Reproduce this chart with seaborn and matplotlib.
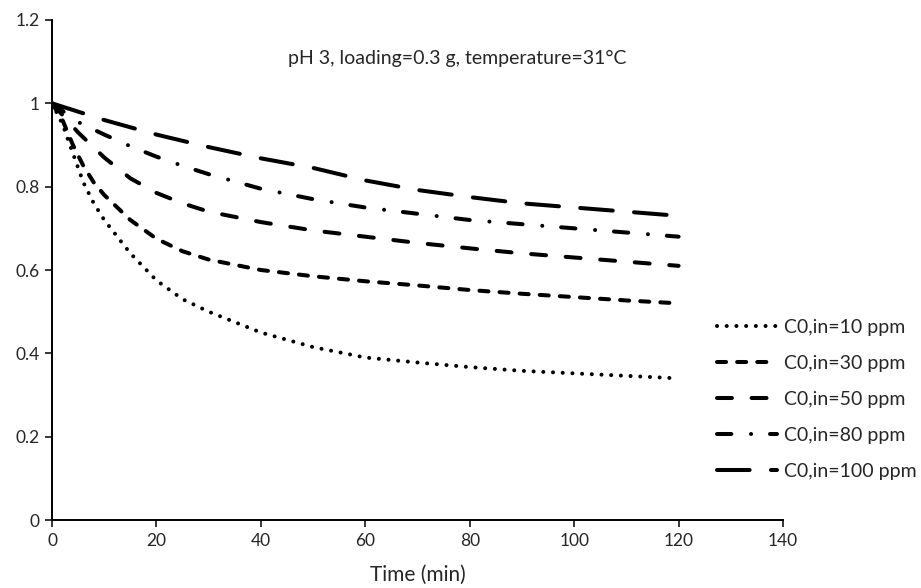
import numpy as np
import pandas as pd
import matplotlib
matplotlib.use("Agg")
import matplotlib.pyplot as plt
import seaborn as sns

# values
t_10 = [0, 2, 4, 6, 8, 10, 15, 20, 25, 30, 40, 50, 60, 70, 80, 90, 100, 110, 120]
c_10 = [1.0, 0.95, 0.88, 0.81, 0.76, 0.72, 0.64, 0.575, 0.53, 0.50, 0.45, 0.415, 0.39, 0.378, 0.367, 0.358, 0.352, 0.346, 0.34]

t_30 = [0, 2, 4, 6, 8, 10, 15, 20, 25, 30, 40, 50, 60, 70, 80, 90, 100, 110, 120]
c_30 = [1.0, 0.96, 0.90, 0.85, 0.81, 0.78, 0.72, 0.675, 0.645, 0.625, 0.60, 0.585, 0.573, 0.563, 0.552, 0.543, 0.535, 0.527, 0.52]

t_50 = [0, 5, 10, 15, 20, 25, 30, 40, 50, 60, 70, 80, 90, 100, 110, 120]
c_50 = [1.0, 0.93, 0.87, 0.82, 0.785, 0.76, 0.74, 0.715, 0.695, 0.68, 0.665, 0.652, 0.64, 0.63, 0.62, 0.61]

t_80 = [0, 5, 10, 15, 20, 25, 30, 40, 50, 60, 70, 80, 90, 100, 110, 120]
c_80 = [1.0, 0.955, 0.925, 0.897, 0.872, 0.85, 0.83, 0.795, 0.77, 0.75, 0.735, 0.72, 0.71, 0.70, 0.69, 0.68]

t_100 = [0, 10, 20, 30, 40, 50, 60, 70, 80, 90, 100, 110, 120]
c_100 = [1.0, 0.96, 0.925, 0.895, 0.868, 0.845, 0.815, 0.792, 0.775, 0.76, 0.75, 0.74, 0.73]

labels = ["C0,in=10 ppm", "C0,in=30 ppm", "C0,in=50 ppm", "C0,in=80 ppm", "C0,in=100 ppm"]
x_ticks = [0, 20, 40, 60, 80, 100, 120, 140]
y_ticks = [0, 0.2, 0.4, 0.6, 0.8, 1.0, 1.2]
y_tick_labels = ["0", "0.2", "0.4", "0.6", "0.8", "1", "1.2"]

series = [(t_10, c_10), (t_30, c_30), (t_50, c_50), (t_80, c_80), (t_100, c_100)]
# dash patterns (in units of line width), round caps
dash_list = [
    (0.01, 2.4),
    (2.25, 2.75),
    (3.7, 4.9),
    (3.55, 4.9, 0.01, 4.7),
    (8.1, 5.3),
]

sns.set_style("white")
plt.rcParams["font.family"] = ["Lato", "DejaVu Sans"]

fig = plt.figure(figsize=(9.21, 5.88), dpi=100)
ax = fig.add_axes([0.0565, 0.1156, 0.7937, 0.8504])

for (t, c), lab, d in zip(series, labels, dash_list):
    df = pd.DataFrame({"t": t, "c": c})
    sns.lineplot(data=df, x="t", y="c", ax=ax, color="black", lw=2.9, label=lab)
    line = ax.lines[-1]
    line.set_dashes(d)
    line.set_dash_capstyle("round")
    line.set_solid_capstyle("round")

ax.set_xlim(0, 140)
ax.set_ylim(0, 1.2)
ax.set_xticks(x_ticks)
ax.set_yticks(y_ticks)
ax.set_yticklabels(y_tick_labels)
ax.set_xlabel("Time (min)", fontsize=15, labelpad=12)
ax.set_ylabel("")

for s in ["top", "right"]:
    ax.spines[s].set_visible(False)
for s in ["left", "bottom"]:
    ax.spines[s].set_color("black")
    ax.spines[s].set_linewidth(1.4)
ax.tick_params(axis="both", direction="out", length=5, width=1.1, color="black",
               labelsize=12.5, left=True, bottom=True, pad=4)

ax.text(0.554, 0.924, "pH 3, loading=0.3 g, temperature=31\u00b0C",
        transform=ax.transAxes, ha="center", va="center", fontsize=14)

handles = ax.lines[:5]
ax.get_legend().remove()
leg = fig.legend(handles, labels, loc="center left", bbox_to_anchor=(0.778, 0.321),
                 frameon=False, fontsize=14, handlelength=3.1, handletextpad=0.35,
                 labelspacing=0.98, borderpad=0, borderaxespad=0)

fig.savefig("out.png", dpi=100)
